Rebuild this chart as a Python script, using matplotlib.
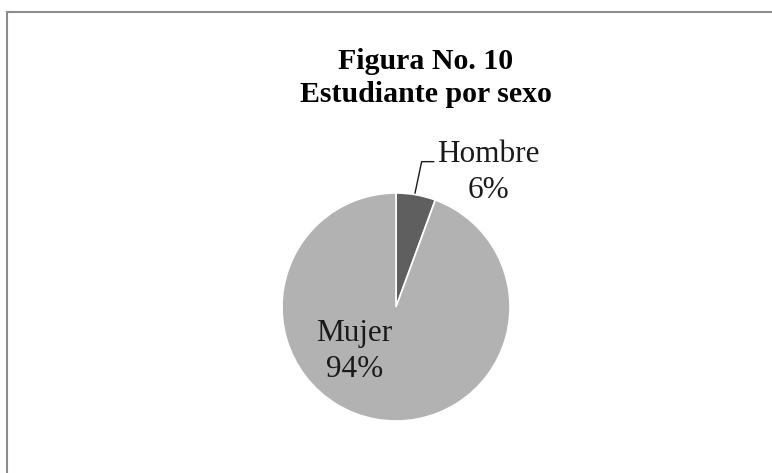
import matplotlib
matplotlib.use('Agg')
import matplotlib.pyplot as plt
from matplotlib.patches import Rectangle

# datos
sexo = ['Hombre', 'Mujer']
porcentaje = [5.6, 94.4]
colores = ['#5f5f5f', '#b2b2b2']

plt.rcParams['font.family'] = 'Liberation Serif'

fig = plt.figure(figsize=(7.72, 4.73), dpi=100)
# marco gris que se sale por la derecha y por abajo
fig.patches.append(Rectangle((6.5/772, -0.1), 1.2, (473-12.5)/473 + 0.1,
                             transform=fig.transFigure, fill=False,
                             edgecolor='#8c8c8c', linewidth=1.5))

fig.text(426/772, 1 - 78/473, 'Figura No. 10\nEstudiante por sexo',
         ha='center', va='center', fontsize=21.5, fontweight='bold',
         linespacing=1.3)

# eje cuadrado con el pastel (centro 396,307 radio 114 px)
ax = fig.add_axes([282/772, (473-421)/473, 228/772, 228/473])
ax.pie(porcentaje, colors=colores, startangle=90, counterclock=False,
       wedgeprops=dict(edgecolor='white', linewidth=1.2))
ax.set_xlim(-1, 1)
ax.set_ylim(-1, 1)

etiq = ['%s\n%.0f%%' % (s, p) for s, p in zip(sexo, porcentaje)]
ax.text(0.81, 1.18, etiq[0], ha='center', va='center', fontsize=22.5,
        linespacing=1.35, color='#1a1a1a')
ax.plot([0.167, 0.225, 0.33], [1.0, 1.275, 1.275], color='#1a1a1a',
        linewidth=1, clip_on=False)
ax.text(-0.364, -0.39, etiq[1], ha='center', va='center', fontsize=22.5,
        linespacing=1.35, color='#1a1a1a')

fig.savefig('out.png', dpi=100)
